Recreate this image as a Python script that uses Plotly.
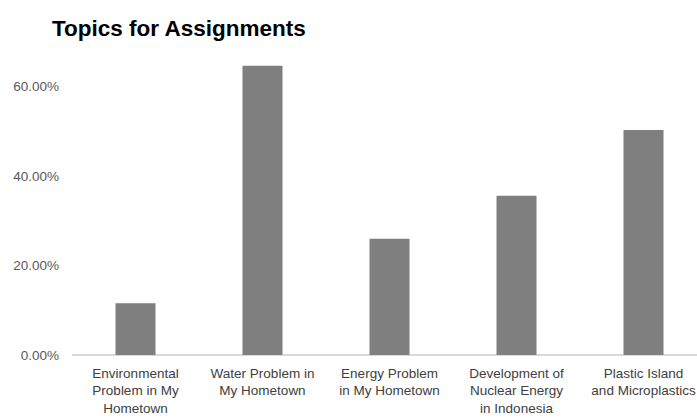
import plotly.graph_objects as go

categories = [
    "Environmental<br>Problem in My<br>Hometown",
    "Water Problem in<br>My Hometown",
    "Energy Problem<br>in My Hometown",
    "Development of<br>Nuclear Energy<br>in Indonesia",
    "Plastic Island<br>and Microplastics",
]
values = [0.116, 0.647, 0.260, 0.356, 0.503]
y_ticks = [0, 0.2, 0.4, 0.6]

W, H = 697, 418
fig = go.Figure(
    go.Bar(
        x=list(range(len(categories))),
        y=values,
        marker=dict(color="#7f7f7f", line=dict(width=0)),
        width=0.315,
    )
)

fig.update_layout(
    width=W,
    height=H,
    margin=dict(l=72, r=0, t=42, b=63),
    paper_bgcolor="white",
    plot_bgcolor="white",
    showlegend=False,
    font=dict(family="Liberation Sans, Arial, sans-serif"),
    title=dict(
        text="<b>Topics for Assignments</b>",
        x=52 / W,
        xanchor="left",
        xref="container",
        y=1 - 28 / H,
        yanchor="middle",
        yref="container",
        font=dict(size=22.5, color="#000000", family="Liberation Sans, Arial, sans-serif"),
    ),
    xaxis=dict(
        range=[-0.5, 4.5 - 10 / 127],
        tickvals=list(range(len(categories))),
        ticktext=categories,
        tickangle=0,
        showgrid=False,
        zeroline=False,
        showline=False,
        ticks="",
        ticklabelstandoff=8,
        ticklabeloverflow="allow",
        tickfont=dict(size=13.5, color="#404040"),
    ),
    yaxis=dict(
        range=[0, 0.7],
        tickvals=y_ticks,
        tickformat=".2%",
        showgrid=False,
        zeroline=True,
        zerolinecolor="#d9d9d9",
        zerolinewidth=1.5,
        showline=False,
        ticks="",
        ticklabelstandoff=12,
        tickfont=dict(size=13.5, color="#595959"),
    ),
)

fig.write_html("out.html")
